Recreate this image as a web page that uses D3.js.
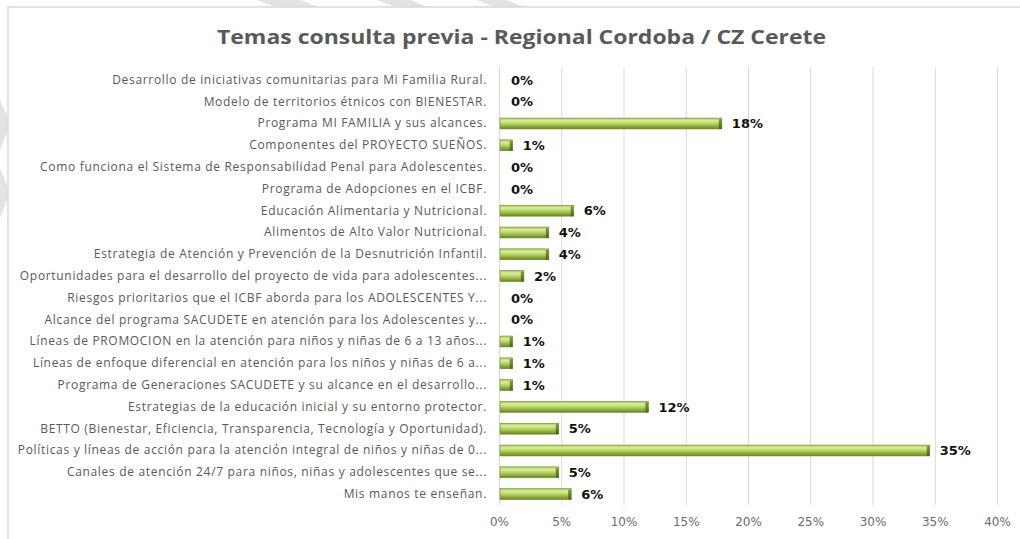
<!DOCTYPE html>
<html>
<head>
<meta charset="utf-8">
<script src="https://cdn.jsdelivr.net/npm/d3@7"></script>
<style>
  body { margin: 0; background: #fff; }
  svg { display: block; }
</style>
</head>
<body>
<div id="chart"></div>
<script>
// Datos
const title = "Temas consulta previa - Regional Cordoba / CZ Cerete";

const categories = [
  "Desarrollo de iniciativas comunitarias para Mi Familia Rural.",
  "Modelo de territorios étnicos con BIENESTAR.",
  "Programa MI FAMILIA y sus alcances.",
  "Componentes del PROYECTO SUEÑOS.",
  "Como funciona el Sistema de Responsabilidad Penal para Adolescentes.",
  "Programa de Adopciones en el ICBF.",
  "Educación Alimentaria y Nutricional.",
  "Alimentos de Alto Valor Nutricional.",
  "Estrategia de Atención y Prevención de la Desnutrición Infantil.",
  "Oportunidades para el desarrollo del proyecto de vida para adolescentes...",
  "Riesgos prioritarios  que el ICBF aborda para los ADOLESCENTES Y...",
  "Alcance del programa SACUDETE en atención para los Adolescentes y...",
  "Líneas de PROMOCION en la atención para niños y niñas de 6 a 13 años...",
  "Líneas de enfoque diferencial en atención para los niños y niñas de 6 a...",
  "Programa de Generaciones SACUDETE y su alcance en el desarrollo...",
  "Estrategias de la educación inicial y su entorno protector.",
  "BETTO (Bienestar, Eficiencia, Transparencia, Tecnología y Oportunidad).",
  "Políticas y líneas de acción para la atención integral de niños y niñas de 0...",
  "Canales de atención 24/7 para niños, niñas y adolescentes que se...",
  "Mis manos te enseñan."
];

const values = [
  0, 0, 0.179, 0.011, 0, 0, 0.060, 0.040, 0.040, 0.020,
  0, 0, 0.011, 0.011, 0.011, 0.120, 0.048, 0.346, 0.048, 0.058
];

const xTicks = [0, 0.05, 0.10, 0.15, 0.20, 0.25, 0.30, 0.35, 0.40];

const width = 1020, height = 539;
const mLeft = 499, mRight = 997, mTop = 69, mBottom = 505;

const svg = d3.select("#chart")
  .append("svg")
  .attr("width", width)
  .attr("height", height)
  .style("font-family", "'Open Sans', sans-serif");

// marca de agua gris al borde
const wm = [
  [[257,0],[300,0],[318,7],[275,7]],
  [[377,0],[410,0],[428,7],[395,7]],
  [[477,0],[507,0],[525,7],[495,7]],
  [[0,100],[8,118],[8,130],[0,150]],
  [[0,168],[8,188],[8,198],[0,218]]
];
svg.selectAll("polygon.wm")
  .data(wm)
  .enter().append("polygon")
  .attr("class", "wm")
  .attr("points", d => d.map(p => p.join(",")).join(" "))
  .attr("fill", "#e3e3e3");

// marco
svg.append("path")
  .attr("d", `M8,${height} L8,7 L${width},7`)
  .attr("fill", "none")
  .attr("stroke", "#d9d9d9")
  .attr("stroke-width", 1.5);

const defs = svg.append("defs");
const grad = defs.append("linearGradient")
  .attr("id", "barGrad")
  .attr("x1", 0).attr("y1", 0).attr("x2", 0).attr("y2", 1);
grad.append("stop").attr("offset", "0%").attr("stop-color", "#a9c659");
grad.append("stop").attr("offset", "25%").attr("stop-color", "#d9ee9c");
grad.append("stop").attr("offset", "55%").attr("stop-color", "#b2d05c");
grad.append("stop").attr("offset", "100%").attr("stop-color", "#65821f");

const endGrad = defs.append("linearGradient")
  .attr("id", "endGrad")
  .attr("x1", 0).attr("y1", 0).attr("x2", 0).attr("y2", 1);
endGrad.append("stop").attr("offset", "0%").attr("stop-color", "#7d9a36");
endGrad.append("stop").attr("offset", "100%").attr("stop-color", "#4d661a");

const x = d3.scaleLinear().domain([0, 0.4]).range([mLeft, mRight]);
const y = d3.scaleBand().domain(categories).range([mTop, mBottom]).paddingInner(0.5).paddingOuter(0.25);

svg.append("text")
  .attr("x", 217)
  .attr("y", 44)
  .attr("fill", "#595959")
  .attr("textLength", 609)
  .attr("lengthAdjust", "spacingAndGlyphs")
  .style("font-size", "20px")
  .style("font-weight", "bold")
  .text(title);

// rejilla y eje x
const xAxis = svg.append("g")
  .attr("transform", `translate(0,${mBottom})`)
  .call(d3.axisBottom(x)
    .tickValues(xTicks)
    .tickFormat(d3.format(".0%"))
    .tickSize(-(mBottom - mTop + 2))
    .tickPadding(12));
xAxis.select(".domain").remove();
xAxis.selectAll(".tick line").attr("stroke", "#d9d9d9");
xAxis.selectAll(".tick text")
  .attr("fill", "#6b6b6b")
  .style("font-family", "'DejaVu Sans', Verdana, sans-serif")
  .style("font-size", "12px");

// etiquetas de categorias
const yAxis = svg.append("g")
  .attr("transform", `translate(${mLeft},0)`)
  .call(d3.axisLeft(y).tickSize(0).tickPadding(12));
yAxis.select(".domain").remove();
yAxis.selectAll(".tick text")
  .attr("fill", "#595959")
  .style("font-family", "'Open Sans', sans-serif")
  .style("font-size", "12px")
  .style("letter-spacing", "0.68px");

const data = categories.map((c, i) => ({cat: c, val: values[i]}));
const bars = data.filter(d => d.val > 0);

svg.selectAll("rect.bar")
  .data(bars)
  .enter().append("rect")
  .attr("class", "bar")
  .attr("x", x(0) + 1)
  .attr("y", d => y(d.cat))
  .attr("width", d => x(d.val) - x(0) - 1)
  .attr("height", y.bandwidth())
  .attr("fill", "url(#barGrad)")
  .attr("stroke", "#6f8c2b")
  .attr("stroke-width", 0.6);

svg.selectAll("rect.end")
  .data(bars)
  .enter().append("rect")
  .attr("class", "end")
  .attr("x", d => x(d.val) - 3)
  .attr("y", d => y(d.cat) + 1)
  .attr("width", 3)
  .attr("height", y.bandwidth() - 1)
  .attr("fill", "url(#endGrad)");

svg.selectAll("text.val")
  .data(data)
  .enter().append("text")
  .attr("class", "val")
  .attr("x", d => x(d.val) + (d.val > 0 ? 10 : 12))
  .attr("y", d => y(d.cat) + y.bandwidth() / 2)
  .attr("dy", "0.36em")
  .attr("fill", "#111")
  .style("font-family", "'DejaVu Sans', Verdana, sans-serif")
  .style("font-size", "13px")
  .style("font-weight", "bold")
  .text(d => d3.format(".0%")(d.val));
</script>
</body>
</html>
